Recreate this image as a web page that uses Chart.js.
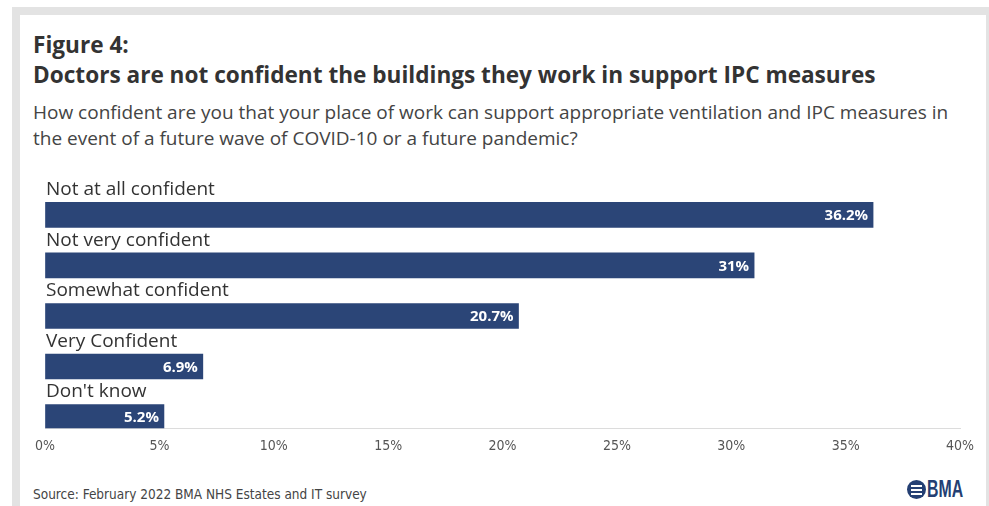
<!DOCTYPE html>
<html>
<head>
<meta charset="utf-8">
<script src="https://cdn.jsdelivr.net/npm/chart.js@4/dist/chart.umd.min.js"></script>
<style>
  body { margin: 0; background: #fff; width: 989px; height: 506px; overflow: hidden; position: relative; font-family: "Open Sans", "Noto Sans", sans-serif; }
  #frame { position: absolute; left: 12px; top: 7px; width: 977px; height: 499px; background: #e3e3e3; }
  #card { position: absolute; left: 20px; top: 15px; width: 966px; height: 491px; background: #fff; }
  .txt { position: absolute; left: 33px; color: #333; white-space: nowrap; }
  #fig { top: 29px; font-size: 22.6px; font-weight: 700; }
  #title { top: 59px; font-size: 22.6px; font-weight: 700; }
  #sub { top: 100px; font-size: 19px; line-height: 25.5px; color: #444; }
  #source { top: 486px; font-size: 13.5px; color: #444; font-family: "Liberation Sans Narrow", "DejaVu Sans Condensed", sans-serif; }
  #logo { position: absolute; left: 907px; top: 478px; height: 22px; display: flex; align-items: center; color: #243f73; font-weight: 700; font-size: 24px; font-family: "Liberation Sans", sans-serif; }
  #logo .dot { width: 19px; height: 19px; border-radius: 50%; background: #243f73; margin-right: 1px; position: relative; flex: none; }
  #logo .dot i { position: absolute; left: 4px; width: 11px; height: 2px; background: #fff; }
  #logo b { display: inline-block; transform: scaleX(0.66); transform-origin: left center; }
  canvas { position: absolute; left: 0; top: 0; }
</style>
</head>
<body>
<div id="frame"></div>
<div id="card"></div>
<div class="txt" id="fig">Figure 4:</div>
<div class="txt" id="title">Doctors are not confident the buildings they work in support IPC measures</div>
<div class="txt" id="sub">How confident are you that your place of work can support appropriate ventilation and IPC measures in<br>the event of a future wave of COVID-10 or a future pandemic?</div>
<div class="txt" id="source">Source: February 2022 BMA NHS Estates and IT survey</div>
<div id="logo"><span class="dot"><i style="top:5px"></i><i style="top:9px"></i><i style="top:13px"></i></span><b>BMA</b></div>
<canvas id="chart" width="989" height="506"></canvas>
<script>
var categories = ['Not at all confident', 'Not very confident', 'Somewhat confident', 'Very Confident', "Don't know"];
var values = [36.2, 31, 20.7, 6.9, 5.2];
var tickValues = [0, 5, 10, 15, 20, 25, 30, 35, 40];

var points = values.map(function(v, i) { return {x: v, y: i}; });

// category names above each bar, value labels inside the bar end
var barText = {
    id: 'barText',
    afterDatasetsDraw: function(chart) {
        var c = chart.ctx;
        var meta = chart.getDatasetMeta(0);
        var yScale = chart.scales.y;
        var step = Math.abs(yScale.getPixelForValue(1) - yScale.getPixelForValue(0));
        c.save();
        meta.data.forEach(function(bar, i) {
            c.textBaseline = 'middle';
            c.fillStyle = '#333';
            c.textAlign = 'left';
            c.font = '19px "Open Sans", "Noto Sans", sans-serif';
            c.fillText(categories[i], chart.chartArea.left + 1, bar.y - step / 2);
            c.fillStyle = '#fff';
            c.textAlign = 'right';
            c.font = 'bold 15px "Open Sans", "Noto Sans", sans-serif';
            c.fillText(values[i] + '%', bar.x - 5, bar.y + 1);
        });
        c.restore();
    }
};

var ctx = document.getElementById('chart').getContext('2d');
var chart = new Chart(ctx, {
    type: 'bar',
    data: {
        labels: categories,
        datasets: [{
            data: points,
            backgroundColor: '#2b4577',
            borderWidth: 0,
            barThickness: 25
        }]
    },
    options: {
        indexAxis: 'y',
        responsive: false,
        animation: false,
        layout: { padding: { left: 45, right: 29, top: 177, bottom: 41 } },
        plugins: { legend: { display: false }, tooltip: { enabled: false } },
        scales: {
            y: {
                type: 'linear',
                reverse: true,
                offset: false,
                min: -0.75,
                max: 4.22,
                display: false
            },
            x: {
                min: 0,
                max: 40,
                afterBuildTicks: function(axis) {
                    axis.ticks = tickValues.map(function(v) { return {value: v}; });
                },
                grid: { drawOnChartArea: false, drawTicks: false },
                border: { color: '#dcdcdc' },
                ticks: {
                    padding: 10,
                    color: '#555',
                    font: { size: 14, family: '"Liberation Sans Narrow", "DejaVu Sans Condensed", sans-serif' },
                    callback: function(v) { return v + '%'; }
                }
            }
        }
    },
    plugins: [barText]
});
</script>
</body>
</html>
